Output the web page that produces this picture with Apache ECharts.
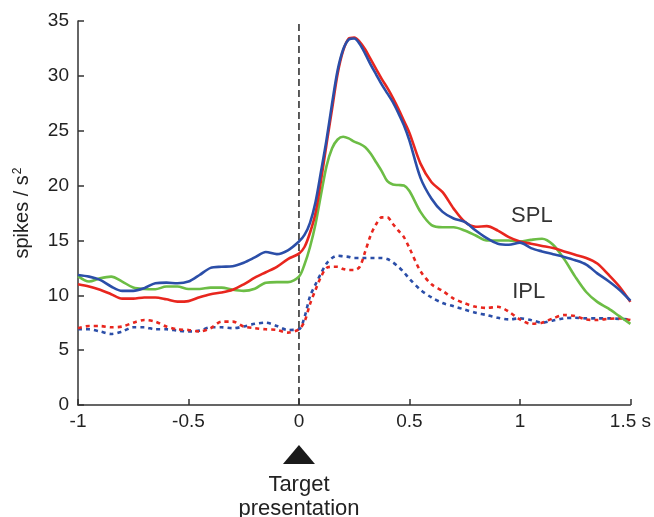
<!DOCTYPE html>
<html>
<head>
<meta charset="utf-8">
<script src="https://cdn.jsdelivr.net/npm/echarts@6/dist/echarts.min.js"></script>
<style>
html,body{margin:0;padding:0;background:#fff;}
#chart{width:654px;height:517px;}
</style>
</head>
<body>
<div id="chart"></div>
<script>
// time (s)
var times = [-1,-0.95,-0.9,-0.85,-0.8,-0.75,-0.7,-0.65,-0.6,-0.55,-0.5,-0.45,-0.4,-0.35,-0.3,-0.25,-0.2,-0.15,-0.1,-0.05,
  0,0.025,0.05,0.075,0.1,0.125,0.15,0.175,0.2,0.225,0.25,0.275,0.3,0.325,0.35,0.375,0.4,0.425,0.45,0.475,
  0.5,0.55,0.6,0.65,0.7,0.75,0.8,0.85,0.9,0.95,1.0,1.05,1.1,1.15,1.2,1.25,1.3,1.35,1.4,1.45,1.5];

var splBlue = [11.85,11.7,11.4,10.8,10.4,10.4,10.65,11.1,11.15,11.1,11.25,11.85,12.5,12.6,12.65,12.97,13.45,13.95,13.75,14.1,
  14.9,15.5,16.6,18.5,21.3,24.2,27.5,30.5,32.4,33.3,33.4,32.9,32.0,31.0,30.1,29.2,28.4,27.6,26.6,25.5,
  24.1,20.7,18.8,17.6,17.0,16.7,15.9,15.2,14.7,14.6,14.8,14.3,14.0,13.75,13.5,13.2,12.8,12.0,11.3,10.5,9.5];

var splRed = [11.0,10.8,10.5,10.1,9.7,9.7,9.8,9.8,9.63,9.42,9.47,9.82,10.1,10.25,10.5,11.0,11.6,12.1,12.6,13.3,
  13.8,14.4,15.7,17.5,20.5,23.8,27.0,30.2,32.3,33.4,33.5,33.1,32.4,31.5,30.6,29.7,28.9,28.0,27.0,25.9,
  24.8,22.0,20.3,19.4,17.9,16.7,16.25,16.3,15.9,15.3,14.9,14.7,14.5,14.3,14.0,13.7,13.4,12.9,11.9,10.8,9.4];

var splGreen = [11.75,11.25,11.55,11.7,11.25,10.7,10.57,10.55,10.8,10.8,10.57,10.57,10.7,10.7,10.5,10.4,10.6,11.15,11.2,11.2,
  11.7,12.8,14.4,16.5,19.2,21.8,23.4,24.2,24.45,24.3,24.0,23.8,23.5,22.9,22.1,21.3,20.4,20.1,20.05,20.0,
  19.5,17.6,16.4,16.2,16.2,15.9,15.45,15.0,15.0,15.0,14.9,15.05,15.15,14.6,13.3,11.7,10.3,9.4,8.8,8.1,7.4];

var iplRed = [7.0,7.2,7.2,7.08,7.15,7.5,7.75,7.6,7.15,6.9,6.84,6.7,7.0,7.6,7.6,7.15,7.0,6.9,6.84,6.6,
  6.9,7.6,9.2,10.5,11.7,12.5,12.6,12.6,12.4,12.3,12.3,12.6,14.0,15.5,16.5,17.1,17.1,16.5,15.9,15.3,
  14.3,12.2,11.0,10.4,9.7,9.27,8.95,8.85,8.95,8.5,7.8,7.4,7.5,7.9,8.2,8.1,7.8,7.75,7.85,7.9,7.75];

var iplBlue = [6.9,6.9,6.7,6.47,6.7,7.08,7.08,6.9,6.9,6.78,6.7,6.78,7.08,7.08,7.0,7.15,7.4,7.5,7.2,6.84,
  6.9,8.0,9.9,11.0,12.0,12.9,13.4,13.6,13.55,13.5,13.4,13.4,13.4,13.4,13.4,13.4,13.3,13.0,12.6,12.1,
  11.5,10.5,9.8,9.3,9.0,8.7,8.4,8.2,7.95,7.8,7.9,7.75,7.5,7.7,7.9,7.95,7.9,7.9,7.9,7.85,7.8];

var xTicks = [-1,-0.5,0,0.5,1,1.5];
var yTicks = [0,5,10,15,20,25,30,35];
var onsetTime = 0;

function pairs(vals){ return times.map(function(t,i){ return [t, vals[i]]; }); }

var FONT = 'Liberation Sans, Arial, Helvetica, sans-serif';
var RED = '#e8261e', BLUE = '#2b4ea8', GREEN = '#6cbd45', INK = '#333333';

var chart = echarts.init(document.getElementById('chart'), null, {renderer:'canvas'});

function lineSeries(name, vals, color, dashed, z){
  return {
    name: name, type: 'line', data: pairs(vals), symbol: 'none', smooth: 0.3, z: z,
    lineStyle: { color: color, width: 2.6, type: dashed ? [4,4] : 'solid', cap: 'butt' },
    silent: true, animation: false
  };
}

var option = {
  animation: false,
  backgroundColor: '#ffffff',
  grid: { left: 78, right: 23, top: 21, bottom: 112, containLabel: false },
  xAxis: {
    type: 'value', min: -1, max: 1.5, interval: 0.5,
    axisLine: { show: true, onZero: false, lineStyle: { color: INK, width: 1.5 } },
    axisTick: { show: true, inside: true, length: 6, lineStyle: { color: INK, width: 1.5 } },
    splitLine: { show: false },
    axisLabel: {
      show: true, showMinLabel: true, showMaxLabel: true, hideOverlap: false,
      margin: 7, color: '#222', fontSize: 19, fontFamily: FONT,
      formatter: function(v){ return v === xTicks[xTicks.length-1] ? v + ' s' : String(v); }
    }
  },
  yAxis: {
    type: 'value', min: 0, max: 35, interval: 5,
    name: 'spikes / s{sup|2}', nameLocation: 'middle', nameGap: 46, nameRotate: 90,
    nameTextStyle: { color: '#222', fontSize: 20, fontFamily: FONT,
      rich: { sup: { fontSize: 12, fontFamily: FONT, color: '#222', verticalAlign: 'top', padding: [0,0,8,1] } } },
    axisLine: { show: true, onZero: false, lineStyle: { color: INK, width: 1.5 } },
    axisTick: { show: true, inside: true, length: 6, lineStyle: { color: INK, width: 1.5 } },
    splitLine: { show: false },
    axisLabel: { show: true, showMinLabel: true, showMaxLabel: true, margin: 9, color: '#222', fontSize: 19, fontFamily: FONT }
  },
  series: [
    {
      name: 'onset', type: 'line', data: [[onsetTime, 0], [onsetTime, 35]], symbol: 'none', z: 1,
      lineStyle: { color: '#333', width: 1.6, type: [7,4] }, silent: true
    },
    lineSeries('IPL blue', iplBlue, BLUE, true, 2),
    lineSeries('IPL red', iplRed, RED, true, 3),
    lineSeries('SPL green', splGreen, GREEN, false, 4),
    lineSeries('SPL red', splRed, RED, false, 5),
    lineSeries('SPL blue', splBlue, BLUE, false, 6)
  ]
};
chart.setOption(option);

var p0 = chart.convertToPixel({ gridIndex: 0 }, [onsetTime, 0]);
var pS = chart.convertToPixel({ gridIndex: 0 }, [0.96, 18.2]);
var pI = chart.convertToPixel({ gridIndex: 0 }, [0.965, 11.3]);
chart.setOption({
  graphic: [
    { type: 'polygon', shape: { points: [[p0[0], p0[1] + 40], [p0[0] - 16, p0[1] + 59], [p0[0] + 16, p0[1] + 59]] },
      style: { fill: '#1a1a1a' }, silent: true },
    { type: 'text', x: p0[0], y: p0[1] + 68,
      style: { text: 'Target\npresentation', fill: '#222', font: '22px ' + FONT, textAlign: 'center', textVerticalAlign: 'top', lineHeight: 24 },
      silent: true },
    { type: 'text', x: pS[0], y: pS[1],
      style: { text: 'SPL', fill: '#333', font: '22px ' + FONT, textAlign: 'left', textVerticalAlign: 'top' }, silent: true },
    { type: 'text', x: pI[0], y: pI[1],
      style: { text: 'IPL', fill: '#333', font: '22px ' + FONT, textAlign: 'left', textVerticalAlign: 'top' }, silent: true }
  ]
});
</script>
</body>
</html>
